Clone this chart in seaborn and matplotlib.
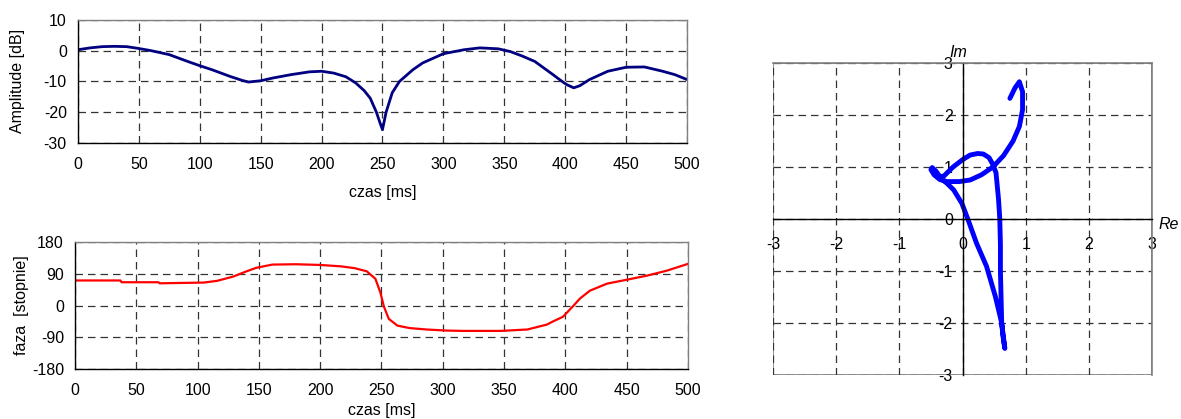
import matplotlib
matplotlib.use("Agg")
import pandas as pd
import matplotlib.pyplot as plt
from matplotlib.ticker import MultipleLocator
from matplotlib.patches import Rectangle
import seaborn as sns

# ── Data ───────────────────────────────────────────────────
# amplitude [dB] vs time [ms]
amp_time = [0, 10, 20, 30, 40, 50, 60, 75, 90, 100, 110, 125, 135, 140, 150,
            160, 175, 190, 200, 210, 220, 228, 235, 240, 245, 248, 250, 253,
            258, 264, 275, 283, 300, 317, 330, 345, 355, 365, 375, 390, 395,
            401, 407, 412, 420, 435, 450, 465, 480, 490, 500]
amp_db = [0.3, 0.9, 1.3, 1.4, 1.3, 0.7, 0.0, -1.3, -3.5, -4.9, -6.2, -8.4,
          -9.7, -10.2, -9.8, -8.9, -7.8, -6.9, -6.7, -7.3, -8.5, -10.5, -13.0,
          -15.5, -20.0, -23.5, -25.7, -20.0, -13.7, -10.0, -6.2, -4.0, -1.0,
          0.3, 0.9, 0.6, -0.3, -1.8, -3.5, -7.8, -9.3, -11.0, -12.1, -11.4,
          -9.4, -6.7, -5.4, -5.3, -6.7, -7.8, -9.4]

# phase [degrees] vs time [ms]
ph_time = [0, 37, 38, 68, 69, 105, 116, 129, 140, 148, 161, 180, 200, 217, 228,
           238, 245, 249, 252, 256, 263, 273, 287, 303, 317, 347, 369, 385, 390,
           398, 406, 412, 420, 434, 450, 467, 483, 500]
ph_deg = [71, 71, 66, 66, 63, 65, 70, 82, 97, 107, 116, 117, 115, 111, 106,
          97, 76, 38, -3, -38, -57, -64, -68, -71, -72, -72, -68, -54, -45,
          -32, -3, 20, 42, 62, 73, 85, 99, 118]

# Nyquist trace (Re, Im)
nyq_re = [0.75, 0.83, 0.90, 0.95, 0.95, 0.90, 0.80, 0.65, 0.48, 0.30, 0.12,
          -0.05, -0.25, -0.36, -0.45, -0.50, -0.48, -0.42, -0.36, -0.30, -0.15,
          0.00, 0.12, 0.24, 0.33, 0.42, 0.48, 0.53, 0.57, 0.59, 0.60, 0.60,
          0.61, 0.62, 0.64, 0.67, 0.62, 0.52, 0.38, 0.22, 0.09, -0.01, -0.14,
          -0.25, -0.32]
nyq_im = [2.32, 2.52, 2.64, 2.45, 2.10, 1.78, 1.50, 1.22, 1.00, 0.85, 0.75,
          0.72, 0.72, 0.76, 0.85, 0.95, 0.99, 0.92, 0.82, 0.82, 1.00, 1.14,
          1.23, 1.26, 1.25, 1.18, 1.05, 0.89, 0.38, 0.0, -0.5, -1.0, -1.5,
          -2.0, -2.25, -2.49, -2.0, -1.49, -0.91, -0.46, -0.02, 0.30, 0.56,
          0.69, 0.76]

amp_df = pd.DataFrame({'czas': amp_time, 'amp': amp_db})
ph_df = pd.DataFrame({'czas': ph_time, 'faza': ph_deg})
nyq_df = pd.DataFrame({'Re': nyq_re, 'Im': nyq_im})

sns.set_style('white')
plt.rcParams['font.family'] = ['Liberation Sans', 'DejaVu Sans']
plt.rcParams['axes.unicode_minus'] = False
plt.rcParams['text.color'] = 'black'
plt.rcParams['axes.labelcolor'] = 'black'
plt.rcParams['xtick.color'] = 'black'
plt.rcParams['ytick.color'] = 'black'
FS = 11.5

GRID = dict(color='#333333', linewidth=0.9, linestyle=(0, (6, 4)))


def time_axis(ax, ymin, ymax, ystep):
    ax.set_xlim(0, 500)
    ax.set_ylim(ymin, ymax)
    ax.xaxis.set_major_locator(MultipleLocator(50))
    ax.xaxis.set_minor_locator(MultipleLocator(25))
    ax.yaxis.set_major_locator(MultipleLocator(ystep))
    ax.yaxis.set_minor_locator(MultipleLocator(ystep / 2))
    ax.tick_params(which='major', direction='out', length=4, width=1,
                   color='black', labelcolor='black', labelsize=FS, pad=4)
    ax.tick_params(axis='x', which='major', pad=6)
    ax.tick_params(which='minor', direction='in', length=3, width=1,
                   color='black')
    for s in ['left', 'bottom']:
        ax.spines[s].set_color('black')
        ax.spines[s].set_linewidth(1)
    for s in ['top', 'right']:
        ax.spines[s].set_color('#808080')
        ax.spines[s].set_linewidth(1)
    ax.grid(True, which='major', **GRID)
    ax.set_axisbelow(True)


fig = plt.figure(figsize=(11.81, 4.19), dpi=100)
ax1 = fig.add_axes([0.066, 0.659, 0.5157, 0.2935])
ax2 = fig.add_axes([0.0635, 0.1193, 0.519, 0.3031])
ax3 = fig.add_axes([0.6545, 0.105, 0.321, 0.7446])

# ── Amplitude ──────────────────────────────────────────────
sns.lineplot(data=amp_df, x='czas', y='amp', ax=ax1, color='#000080',
             linewidth=2, sort=False, estimator=None)
time_axis(ax1, -30, 10, 10)
ax1.set_xlabel('czas [ms]', fontsize=FS, color='black')
ax1.set_ylabel('Amplitude [dB]', fontsize=FS, color='black')
ax1.xaxis.set_label_coords(0.5, -0.34)
ax1.yaxis.set_label_coords(-0.087, 0.5)

# ── Phase ──────────────────────────────────────────────────
sns.lineplot(data=ph_df, x='czas', y='faza', ax=ax2, color='#FF0000',
             linewidth=1.6, sort=False, estimator=None)
time_axis(ax2, -180, 180, 90)
ax2.set_xlabel('czas [ms]', fontsize=FS, color='black')
ax2.set_ylabel('faza  [stopnie]', fontsize=FS, color='black')
ax2.xaxis.set_label_coords(0.5, -0.27)
ax2.yaxis.set_label_coords(-0.075, 0.5)

# ── Nyquist plane ──────────────────────────────────────────
sns.lineplot(data=nyq_df, x='Re', y='Im', ax=ax3, color='#0000FF',
             linewidth=3.5, sort=False, estimator=None)
ax3.set_xlim(-3, 3)
ax3.set_ylim(-3, 3)
ax3.xaxis.set_major_locator(MultipleLocator(1))
ax3.yaxis.set_major_locator(MultipleLocator(1))
ax3.grid(True, **GRID)
ax3.set_axisbelow(True)
ax3.spines['left'].set_position('zero')
ax3.spines['bottom'].set_position('zero')
for s in ['left', 'bottom']:
    ax3.spines[s].set_color('black')
    ax3.spines[s].set_linewidth(1)
for s in ['top', 'right']:
    ax3.spines[s].set_color('#808080')
    ax3.spines[s].set_linewidth(1.2)
ax3.add_patch(Rectangle((0, 0), 1, 1, transform=ax3.transAxes, fill=False,
                        edgecolor='#808080', linewidth=1.2, zorder=0.5))
ax3.tick_params(axis='both', direction='out', length=4, width=1,
                color='black', labelcolor='black', labelsize=FS)
ax3.tick_params(axis='x', pad=9)
ax3.tick_params(axis='y', pad=3)
ax3.set_xlabel('')
ax3.set_ylabel('')
ax3.text(3.1, -0.1, 'Re', style='italic', ha='left', va='center',
         fontsize=FS, color='black')
ax3.text(-0.07, 3.2, 'Im', style='italic', ha='center', va='center',
         fontsize=FS, color='black')

plt.savefig('out.png', dpi=100)
plt.close()
